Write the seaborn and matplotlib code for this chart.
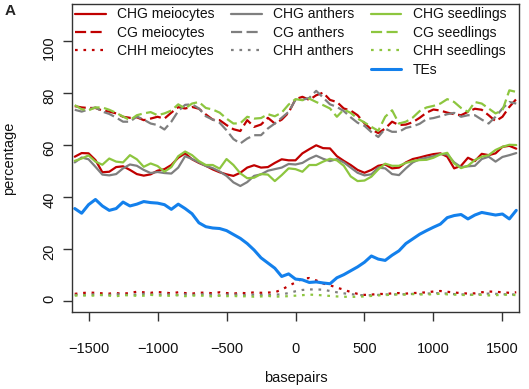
import numpy as np
import pandas as pd
import matplotlib
matplotlib.use("Agg")
import matplotlib.pyplot as plt
from matplotlib.lines import Line2D
import seaborn as sns

sns.set_style("ticks")
plt.rcParams['font.family'] = ['Liberation Sans', 'DejaVu Sans']

basepairs = list(range(-1600, 1601, 50))

chg_meiocytes = [55.5, 56.9, 56.8, 54.2, 49.5, 49.7, 51.5, 51.8, 50.4, 48.8, 48.2, 48.7, 50.1, 50.7, 52.3, 55.1, 56.8, 54.5, 53.1, 52.0, 50.6, 49.5, 48.7, 48.1, 49.3, 51.3, 52.2, 51.3, 51.5, 53.1, 54.5, 54.1, 54.1,
                 56.8, 58.4, 59.9, 58.8, 58.7, 55.7, 53.9, 52.3, 50.4, 49.3, 50.4, 52.0, 52.5, 51.0, 51.3, 53.3, 54.6, 55.2, 55.9, 56.5, 56.8, 55.5, 51.0, 52.0, 55.1, 53.8, 56.6, 56.1, 56.8, 59.3, 59.7, 58.6]
cg_meiocytes = [75.0, 74.5, 74.3, 74.3, 73.3, 72.9, 72.2, 70.9, 70.5, 70.7, 69.6, 70.2, 70.9, 70.2, 72.5, 74.6, 74.1, 74.7, 74.0, 71.8, 69.8, 69.6, 67.7, 66.1, 65.4, 69.6, 67.0, 67.9, 70.5, 68.3, 69.8, 72.5, 77.7,
                78.6, 77.4, 79.2, 80.2, 77.4, 76.6, 74.1, 73.3, 71.5, 68.4, 66.0, 64.6, 66.4, 69.0, 67.7, 67.9, 68.8, 70.5, 72.5, 73.7, 73.3, 72.5, 71.9, 71.5, 72.8, 74.0, 73.6, 71.5, 69.2, 70.9, 74.7, 77.7]
chh_meiocytes = [2.6, 2.9, 3.1, 3.0, 2.8, 2.7, 2.9, 2.6, 3.0, 3.4, 3.2, 3.0, 3.3, 3.1, 2.8, 3.2, 2.9, 2.7, 3.0, 3.1, 2.8, 3.2, 2.9, 2.7, 3.0, 2.8, 3.2, 3.0, 3.1, 3.2, 4.2, 5.7, 7.0,
                 8.5, 8.7, 7.8, 6.6, 5.9, 5.0, 4.2, 3.3, 2.6, 2.2, 2.3, 2.6, 2.5, 2.8, 2.9, 2.7, 2.9, 3.0, 3.2, 3.5, 3.7, 3.4, 3.1, 2.9, 2.7, 2.8, 3.2, 3.5, 3.4, 3.2, 3.0, 3.2]

chg_anthers = [53.3, 55.2, 54.5, 51.6, 48.6, 48.3, 48.8, 51.0, 52.5, 52.0, 50.4, 49.2, 49.6, 49.2, 49.0, 51.3, 55.7, 54.6, 53.3, 51.9, 51.1, 49.8, 48.1, 45.6, 44.2, 45.7, 48.1, 48.7, 50.1, 50.7, 51.3, 52.7, 52.5,
               53.1, 54.7, 55.9, 54.7, 53.8, 54.6, 53.3, 51.3, 49.3, 48.3, 48.7, 51.3, 51.0, 48.8, 48.4, 51.0, 53.3, 54.5, 55.1, 55.7, 56.5, 56.4, 53.3, 51.5, 51.8, 52.0, 54.6, 55.5, 53.6, 55.4, 56.1, 56.9]
cg_anthers = [73.6, 72.9, 73.7, 74.5, 72.9, 72.0, 70.6, 69.0, 69.0, 71.0, 69.8, 68.3, 67.7, 66.0, 69.0, 73.1, 75.5, 75.7, 74.1, 71.1, 69.8, 68.6, 65.7, 62.3, 60.6, 62.5, 63.8, 63.8, 66.4, 68.3, 70.5, 72.8, 77.5,
              77.4, 78.2, 80.9, 78.3, 75.7, 74.7, 73.1, 70.7, 68.6, 67.4, 65.0, 63.1, 66.3, 65.1, 65.1, 66.6, 67.2, 68.2, 70.0, 70.4, 71.1, 71.9, 72.4, 70.9, 71.5, 71.5, 69.8, 68.3, 70.9, 74.1, 76.6, 76.0]
chh_anthers = [2.2, 2.0, 2.3, 2.4, 2.1, 2.2, 2.5, 2.3, 2.1, 2.4, 2.6, 2.3, 2.2, 2.5, 2.3, 2.1, 2.4, 2.2, 2.3, 2.5, 2.2, 2.0, 2.3, 2.4, 2.2, 2.1, 2.3, 2.2, 2.1, 2.3, 2.4, 2.9, 3.6,
               4.1, 4.3, 4.3, 4.2, 3.7, 3.2, 2.8, 2.5, 2.2, 2.0, 2.1, 2.2, 2.4, 2.3, 2.5, 2.4, 2.6, 2.5, 2.7, 2.8, 2.9, 2.7, 2.5, 2.4, 2.3, 2.2, 2.5, 2.7, 2.6, 2.5, 2.3, 2.4]

chg_seedlings = [53.9, 54.8, 56.0, 53.6, 52.4, 54.8, 53.6, 53.3, 56.1, 54.5, 51.6, 52.9, 51.9, 49.7, 51.5, 55.7, 57.5, 56.1, 53.8, 52.3, 52.3, 50.9, 54.6, 52.3, 49.1, 47.2, 47.4, 48.8, 48.6, 46.1, 48.4, 51.0, 50.7,
                 49.7, 52.3, 52.3, 53.6, 54.7, 54.1, 52.0, 47.9, 46.1, 46.3, 47.8, 50.6, 52.8, 52.0, 52.0, 53.1, 53.8, 54.2, 54.3, 55.1, 56.4, 57.0, 52.9, 51.1, 52.0, 54.2, 55.5, 56.1, 58.1, 59.3, 60.1, 60.0]
cg_seedlings = [75.4, 73.8, 73.4, 74.5, 74.5, 73.6, 72.4, 71.0, 69.6, 71.5, 72.2, 72.7, 71.5, 72.2, 73.3, 75.7, 74.1, 76.0, 76.6, 74.3, 73.7, 72.5, 70.2, 68.3, 68.4, 70.9, 70.2, 70.4, 71.9, 71.1, 72.5, 75.6, 77.7,
                77.3, 77.9, 76.6, 75.4, 74.1, 70.9, 73.7, 72.4, 70.2, 68.7, 67.0, 65.5, 70.9, 73.4, 68.3, 69.0, 70.6, 73.1, 74.5, 75.1, 76.0, 77.7, 76.6, 74.3, 72.8, 76.6, 76.0, 74.1, 72.2, 73.4, 81.1, 80.5]
chh_seedlings = [1.9, 2.1, 1.8, 2.0, 2.2, 1.9, 1.7, 2.0, 2.1, 1.8, 1.9, 2.2, 2.0, 1.8, 1.9, 2.1, 1.7, 1.9, 2.0, 1.8, 1.6, 1.9, 1.7, 1.8, 1.6, 1.7, 1.5, 1.6, 1.8, 1.5, 1.6, 1.7, 1.9,
                 2.1, 2.3, 2.2, 2.0, 1.8, 1.6, 1.5, 1.4, 1.5, 1.6, 1.8, 2.0, 2.1, 2.3, 2.4, 2.3, 2.5, 2.4, 2.3, 2.5, 2.6, 2.4, 2.3, 2.2, 2.1, 2.3, 2.2, 2.0, 2.1, 2.2, 2.3, 2.1]

tes = [35.5, 33.7, 37.0, 39.0, 36.5, 34.8, 35.5, 38.0, 36.5, 37.2, 38.2, 37.8, 37.6, 37.0, 35.2, 37.2, 35.5, 33.5, 30.0, 28.5, 28.0, 27.8, 27.0, 25.5, 24.0, 22.0, 19.5, 16.5, 14.5, 12.5, 9.3, 10.3, 8.3,
       8.0, 7.0, 7.2, 6.8, 6.5, 8.8, 10.0, 11.5, 13.0, 14.8, 17.2, 16.0, 15.5, 17.5, 19.2, 22.0, 23.8, 25.6, 27.0, 28.3, 29.5, 32.0, 32.8, 33.2, 31.5, 33.0, 34.0, 33.5, 33.0, 33.4, 31.5, 34.8]

labels = ["CHG meiocytes", "CG meiocytes", "CHH meiocytes",
          "CHG anthers", "CG anthers", "CHH anthers",
          "CHG seedlings", "CG seedlings", "CHH seedlings", "TEs"]
series = [chg_meiocytes, cg_meiocytes, chh_meiocytes,
          chg_anthers, cg_anthers, chh_anthers,
          chg_seedlings, cg_seedlings, chh_seedlings, tes]
for s in series:
    assert len(s) == len(basepairs), len(s)

RED = "#C00000"
GRAY = "#7F7F7F"
GREEN = "#8DC63F"
BLUE = "#1380EC"
LW = 1.6
solid = "-"
dashed = (0, (5, 2))
dotted = (0, (1.2, 2.6))
styles = [(RED, solid, LW), (RED, dashed, LW), (RED, dotted, LW),
          (GRAY, solid, LW), (GRAY, dashed, LW), (GRAY, dotted, LW),
          (GREEN, solid, LW), (GREEN, dashed, LW), (GREEN, dotted, LW),
          (BLUE, solid, 2.2)]

fig = plt.figure(figsize=(5.29, 3.89), dpi=100)
ax = fig.add_axes([72/529, 1-312/389, 447/529, 308/389])

for lab, vals, (c, ls, lw) in zip(labels, series, styles):
    df = pd.DataFrame({"bp": basepairs, "v": vals})
    sns.lineplot(data=df, x="bp", y="v", ax=ax, color=c, linestyle=ls, linewidth=lw,
                 legend=False, estimator=None)

ax.set_xlim(-1620, 1620)
ax.set_ylim(-4.4, 114.4)
ax.set_xticks([-1500, -1000, -500, 0, 500, 1000, 1500])
ax.set_yticks([0, 20, 40, 60, 80, 100])
for sp in ax.spines.values():
    sp.set_color("#333333")
    sp.set_linewidth(1.0)
ax.tick_params(axis="both", direction="out", length=6.3, width=1.0, color="#333333",
               labelsize=10.5, labelcolor="#111111")
ax.tick_params(axis="x", pad=15)
ax.tick_params(axis="y", pad=5, labelrotation=90)

ax.set_xlabel("basepairs", fontsize=10.5, color="#111111")
ax.set_ylabel("percentage", fontsize=10.5, color="#111111")
ax.xaxis.set_label_coords(0.5, -0.19)
ax.yaxis.set_label_coords(-0.125, 0.5)

handles = []
hl = []
for i, (lab, (c, ls, lw)) in enumerate(zip(labels, styles)):
    handles.append(Line2D([], [], color=c, linestyle=ls, linewidth=lw))
    hl.append(lab)
    if i in (2, 5):
        handles.append(Line2D([], [], color="none"))
        hl.append("")
leg = ax.legend(handles, hl, ncol=3, loc="upper left", bbox_to_anchor=(0.0, 1.0),
                frameon=False, fontsize=10, handlelength=2.2, handletextpad=0.8,
                columnspacing=1.2, labelspacing=0.32, borderaxespad=0.15, borderpad=0.1)
for t in leg.get_texts():
    t.set_color("#111111")

fig.text(5/529, 1-4/389, "A", fontsize=11, fontweight="bold", va="top", ha="left")

fig.savefig("out.png", dpi=100)
